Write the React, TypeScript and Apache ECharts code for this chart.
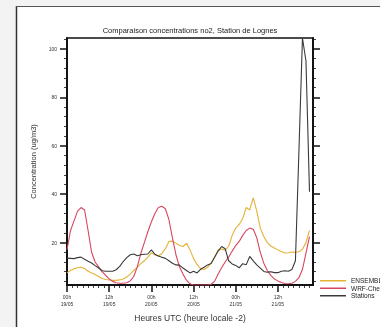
import React, { useEffect, useRef } from "react";
import * as echarts from "echarts";

const seriesNames = ["ENSEMBLE", "WRF-Chem", "Stations"];
const seriesColors = ["#e5b236", "#d8465f", "#3a3a3a"];

// hourly values from 00h 19/05 (index = hour)
const ensemble = [
  7.5, 8.5, 9.2, 9.6, 9.8, 9.3, 8.2, 7.5, 6.8, 6.0,
  5.2, 4.8, 4.6, 4.4, 4.4, 4.6, 5.0, 5.8, 7.0, 8.5,
  9.8, 11.3, 12.5, 14.0, 15.8, 15.0, 14.5, 15.5, 17.5, 20.5,
  20.6, 19.8, 18.8, 18.4, 19.7, 17.0, 13.5, 11.0, 9.2, 8.9,
  9.8, 11.5, 14.0, 17.0, 17.4, 16.8, 18.5, 23.0, 26.0, 27.5,
  30.0, 34.5, 33.5, 38.5, 33.0, 26.0, 22.5, 20.0, 18.6, 17.8,
  17.0, 16.3, 15.7, 15.8, 16.1, 16.0, 16.2, 17.3, 20.0, 25.0,
];
const wrfChem = [
  17.0, 25.0, 29.0, 33.0, 34.5, 33.5, 25.0, 16.0, 12.0, 10.0,
  8.0, 6.5, 5.0, 4.0, 3.4, 3.2, 3.2, 3.4, 4.2, 6.0,
  10.0, 15.5, 20.0, 24.5, 28.5, 32.0, 34.5, 35.0, 34.0, 29.5,
  22.0, 15.0, 10.0, 7.0, 4.5, 3.0, 2.5, 2.5, 2.5, 2.5,
  2.5, 2.8, 4.0, 7.0, 9.6, 12.0, 14.0, 16.5, 18.8, 20.5,
  23.0, 25.0, 26.0, 25.5, 22.0, 16.0, 11.5, 8.5, 6.5, 5.0,
  4.2, 3.5, 3.1, 3.0, 3.2, 4.0, 5.5, 9.0, 15.7, 22.5,
];
const stations = [
  13.6, 13.5, 13.4, 13.8, 14.0, 13.1, 12.3, 11.6, 10.5, 9.5,
  8.4, 8.2, 8.2, 8.2, 8.8, 10.2, 12.2, 13.8, 15.0, 15.3,
  14.6, 15.0, 15.2, 15.3, 17.0, 15.2, 14.5, 14.0, 13.5, 12.5,
  11.5, 10.8, 10.7, 9.5, 8.5, 7.5, 8.2, 7.5, 9.0, 9.8,
  10.8, 11.4, 14.0, 16.5, 18.4, 17.5, 12.5, 11.2, 10.6, 9.6,
  11.3, 10.9, 14.3, 12.5, 10.8, 9.5, 8.1, 7.8, 8.0, 7.6,
  7.6, 8.2, 8.4, 8.2, 8.9, 12.5, 58.0, 104.5, 95.0, 41.0,
];

const xMajorTicks = [0, 12, 24, 36, 48, 60];
const xMajorLabels = ["00h\n19/05", "12h\n19/05", "00h\n20/05", "12h\n20/05", "00h\n21/05", "12h\n21/05"];
const xMinorTicks = [
  1.5, 3, 4.5, 6, 7.5, 9, 10.5, 13.5, 15, 16.5, 18, 19.5, 21, 22.5,
  25.5, 27, 28.5, 30, 31.5, 33, 34.5, 37.5, 39, 40.5, 42, 43.5, 45, 46.5,
  49.5, 51, 52.5, 54, 55.5, 57, 58.5, 61.5, 63, 64.5, 66, 67.5, 69,
];
const yMajorTicks = [20, 40, 60, 80, 100];
const yMinorTicks = [
  4, 8, 12, 16, 24, 28, 32, 36, 44, 48, 52, 56, 64, 68, 72, 76, 84, 88, 92, 96, 104,
];

const X_MIN = 0;
const X_MAX = 70;
const Y_MIN = 2.5;
const Y_MAX = 104.5;

const FONT = "Liberation Sans, Arial, sans-serif";

export default function App() {
  const ref = useRef<HTMLDivElement>(null);

  useEffect(() => {
    if (!ref.current) return;
    const chart = echarts.init(ref.current, undefined, { renderer: "svg" });
    const allSeries = [ensemble, wrfChem, stations];

    const yAxisBase = (position: string, ticks: number[], len: number, labels: boolean, nameOn: boolean) => ({
      type: "value",
      position,
      min: Y_MIN,
      max: Y_MAX,
      name: nameOn ? "Concentration (ug/m3)" : "",
      nameLocation: "middle",
      nameGap: 27,
      nameTextStyle: { fontSize: 7.5, color: "#333", fontFamily: FONT },
      axisLine: { show: true, lineStyle: { color: "#111", width: 1.5 } },
      axisTick: {
        show: true,
        customValues: ticks,
        length: len,
        inside: false,
        lineStyle: { color: "#111", width: len > 4 ? 1.5 : 0.8 },
      },
      axisLabel: labels
        ? {
            show: true,
            customValues: yMajorTicks,
            fontSize: 5,
            color: "#333",
            fontFamily: FONT,
            margin: 10,
          }
        : { show: false },
      splitLine: { show: false },
    });

    const xAxisBase = (ticks: number[], len: number, labels: boolean, nameOn: boolean) => ({
      type: "value",
      position: "bottom",
      min: X_MIN,
      max: X_MAX,
      name: nameOn ? "Heures UTC (heure locale -2)" : "",
      nameLocation: "middle",
      nameGap: 28,
      nameTextStyle: { fontSize: 8.5, color: "#333", fontFamily: FONT },
      axisLine: { show: true, lineStyle: { color: "#111", width: 1.5 } },
      axisTick: {
        show: true,
        customValues: ticks,
        length: len,
        inside: false,
        lineStyle: { color: "#111", width: len > 4 ? 1.5 : 0.8 },
      },
      axisLabel: labels
        ? {
            show: true,
            customValues: xMajorTicks,
            fontSize: 5,
            lineHeight: 7,
            color: "#333",
            fontFamily: FONT,
            margin: 8,
            formatter: (v: number) => {
              const i = xMajorTicks.indexOf(v);
              return i >= 0 ? xMajorLabels[i] : "";
            },
          }
        : { show: false },
      splitLine: { show: false },
    });

    chart.setOption({
      animation: false,
      backgroundColor: "transparent",
      graphic: [
        {
          type: "rect",
          z: -10,
          shape: { x: 0, y: 0, width: 380, height: 327 },
          style: { fill: "#f3f3f3" },
          silent: true,
        },
        {
          type: "rect",
          z: -9,
          shape: { x: 16, y: 6, width: 364, height: 321 },
          style: { fill: "#ffffff" },
          silent: true,
        },
        {
          type: "line",
          z: -8,
          shape: { x1: 16.5, y1: 6, x2: 16.5, y2: 327 },
          style: { stroke: "#333", lineWidth: 1.5 },
          silent: true,
        },
        {
          type: "line",
          z: -8,
          shape: { x1: 16, y1: 6.5, x2: 380, y2: 6.5 },
          style: { stroke: "#555", lineWidth: 1 },
          silent: true,
        },
      ],
      title: {
        text: "Comparaison concentrations no2, Station de Lognes",
        left: "center",
        top: 21,
        textStyle: { fontSize: 7.5, fontWeight: "normal", color: "#222", fontFamily: FONT },
      },
      legend: {
        orient: "vertical",
        left: 320,
        top: 277,
        itemWidth: 26,
        itemHeight: 1.5,
        itemGap: 0,
        padding: 0,
        icon: "rect",
        data: seriesNames,
        textStyle: { fontSize: 6.5, color: "#222", fontFamily: FONT, lineHeight: 7.5, padding: [0, 0, 0, 0] },
      },
      grid: { left: 67, right: 67, top: 38, bottom: 38, containLabel: false, show: true, borderColor: "#111", borderWidth: 1.5 },
      xAxis: [
        xAxisBase(xMajorTicks, 7, true, true),
        xAxisBase(xMinorTicks, 3, false, false),
      ],
      yAxis: [
        yAxisBase("left", yMajorTicks, 7, true, true),
        yAxisBase("left", yMinorTicks, 3, false, false),
        yAxisBase("right", yMajorTicks, 7, false, false),
        yAxisBase("right", yMinorTicks, 3, false, false),
      ],
      series: seriesNames.map((name, si) => ({
        name,
        type: "line",
        xAxisIndex: 0,
        yAxisIndex: 0,
        symbol: "none",
        smooth: false,
        clip: true,
        color: seriesColors[si],
        lineStyle: { width: 1.1, color: seriesColors[si] },
        data: allSeries[si].map((v, h) => [h, v]),
        z: 3 + si,
      })),
    });
    return () => chart.dispose();
  }, []);

  return (
    <div
      ref={ref}
      style={{ position: "fixed", left: 0, top: 0, width: 380, height: 327 }}
    />
  );
}
